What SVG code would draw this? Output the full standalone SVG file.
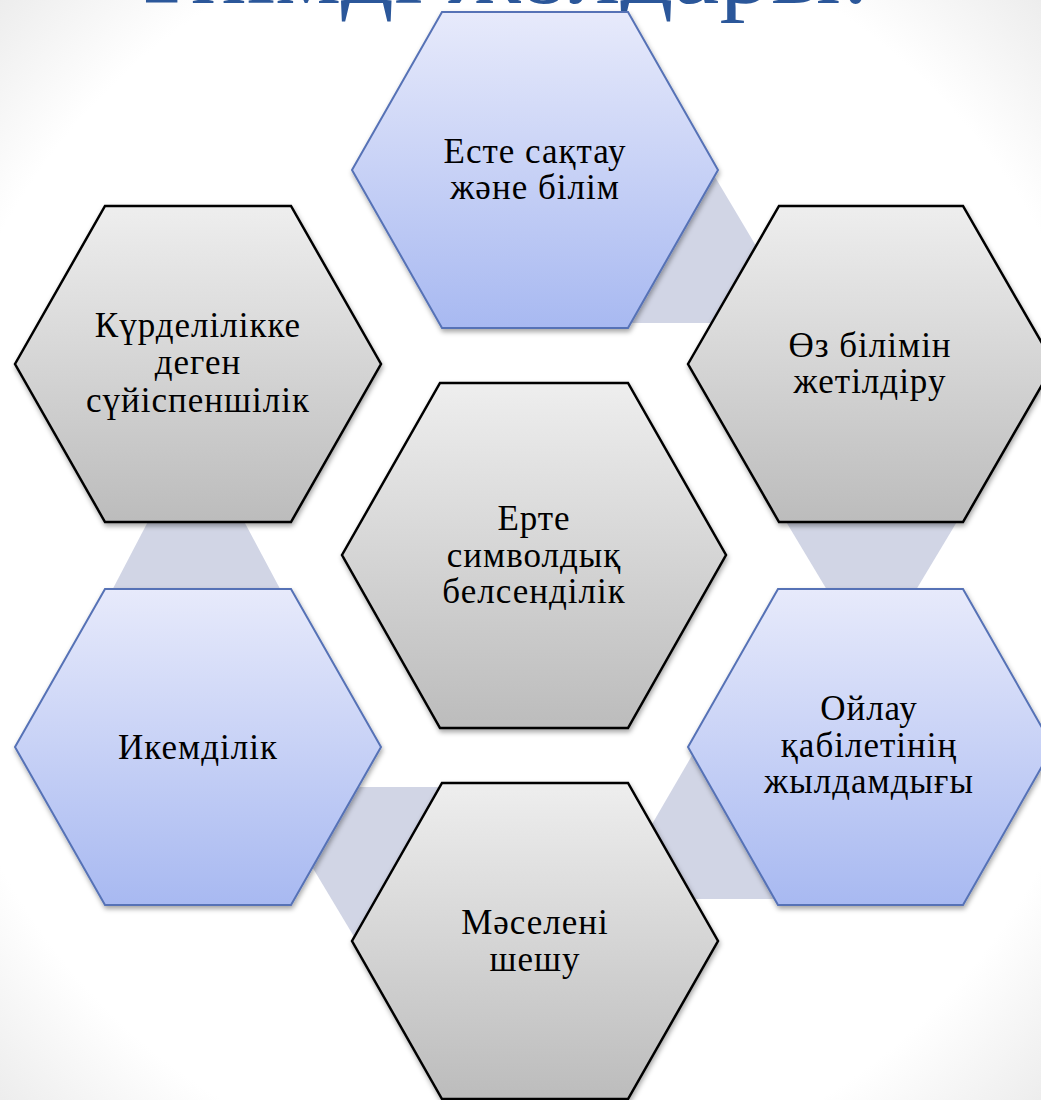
<svg xmlns="http://www.w3.org/2000/svg" width="1041" height="1100" viewBox="0 0 1041 1100">
  <defs>
    <radialGradient id="bg" cx="0.5" cy="0.5" r="0.72">
      <stop offset="0.8" stop-color="#ffffff"/>
      <stop offset="1" stop-color="#ebebeb"/>
    </radialGradient>
    <linearGradient id="gBlue" x1="0" y1="0" x2="0" y2="1">
      <stop offset="0" stop-color="#E7EAFB"/>
      <stop offset="1" stop-color="#A8B9F1"/>
    </linearGradient>
    <linearGradient id="gGrey" x1="0" y1="0" x2="0" y2="1">
      <stop offset="0" stop-color="#EEEEEE"/>
      <stop offset="1" stop-color="#BCBCBC"/>
    </linearGradient>
    <filter id="sh" x="-10%" y="-10%" width="120%" height="125%">
      <feDropShadow dx="1" dy="3" stdDeviation="2.5" flood-color="#000" flood-opacity="0.35"/>
    </filter>
  </defs>
  <style>
    .blue { fill: url(#gBlue); stroke: #5672B6; stroke-width: 2; filter: url(#sh); }
    .grey { fill: url(#gGrey); stroke: #000; stroke-width: 2.5; filter: url(#sh); }
    .band { fill: #D1D5E5; }
    .lbl { font-family: "Liberation Serif", "DejaVu Serif", serif; font-size: 35px; letter-spacing: 1px; fill: #000; text-anchor: middle; }
    .title { font-family: "Liberation Serif", "DejaVu Serif", serif; font-size: 96px; fill: #2B579A; text-anchor: middle; }
  </style>
  <rect x="0" y="0" width="1041" height="1100" fill="url(#bg)"/>
  <text class="title" x="500" y="3" textLength="740" lengthAdjust="spacingAndGlyphs">Тиімді жолдары:</text>

  <g id="connectors">
    <polygon class="band" points="699,150 784,293 780,323 620,323"/>
    <polygon class="band" points="779,510 964,510 910,600 833,600"/>
    <polygon class="band" points="637,850 701,740 800,740 790,899 640,899"/>
    <polygon class="band" points="340,787 460,787 400,900 356,940 302,850"/>
    <polygon class="band" points="154,510 238,510 286,600 107,600"/>
  </g>

  <g id="node-top">
    <polygon class="blue" points="352,170 442,12 628,12 718,170 628,328 442,328"/>
    <text class="lbl" x="535" y="163">Есте сақтау</text>
    <text class="lbl" x="535" y="199">және білім</text>
  </g>
  <g id="node-upper-left">
    <polygon class="grey" points="15,364 105,206 291,206 381,364 291,522 105,522"/>
    <text class="lbl" x="198" y="337">Күрделілікке</text>
    <text class="lbl" x="198" y="374">деген</text>
    <text class="lbl" x="198" y="412">сүйіспеншілік</text>
  </g>
  <g id="node-upper-right">
    <polygon class="grey" points="688,364 779,206 963,206 1054,364 963,522 779,522"/>
    <text class="lbl" x="870" y="357">Өз білімін</text>
    <text class="lbl" x="870" y="393">жетілдіру</text>
  </g>
  <g id="node-center">
    <polygon class="grey" points="342,555 440,383 628,383 726,555 628,728 440,728"/>
    <text class="lbl" x="534" y="530">Ерте</text>
    <text class="lbl" x="534" y="567">символдық</text>
    <text class="lbl" x="534" y="603">белсенділік</text>
  </g>
  <g id="node-lower-left">
    <polygon class="blue" points="15,747 105,589 291,589 381,747 291,905 105,905"/>
    <text class="lbl" x="198" y="759">Икемділік</text>
  </g>
  <g id="node-lower-right">
    <polygon class="blue" points="688,747 778,589 963,589 1053,747 963,905 778,905"/>
    <text class="lbl" x="869" y="720">Ойлау</text>
    <text class="lbl" x="869" y="757">қабілетінің</text>
    <text class="lbl" x="869" y="793">жылдамдығы</text>
  </g>
  <g id="node-bottom">
    <polygon class="grey" points="352,941 442,783 628,783 718,941 628,1099 442,1099"/>
    <text class="lbl" x="535" y="934">Мәселені</text>
    <text class="lbl" x="535" y="971">шешу</text>
  </g>
</svg>
